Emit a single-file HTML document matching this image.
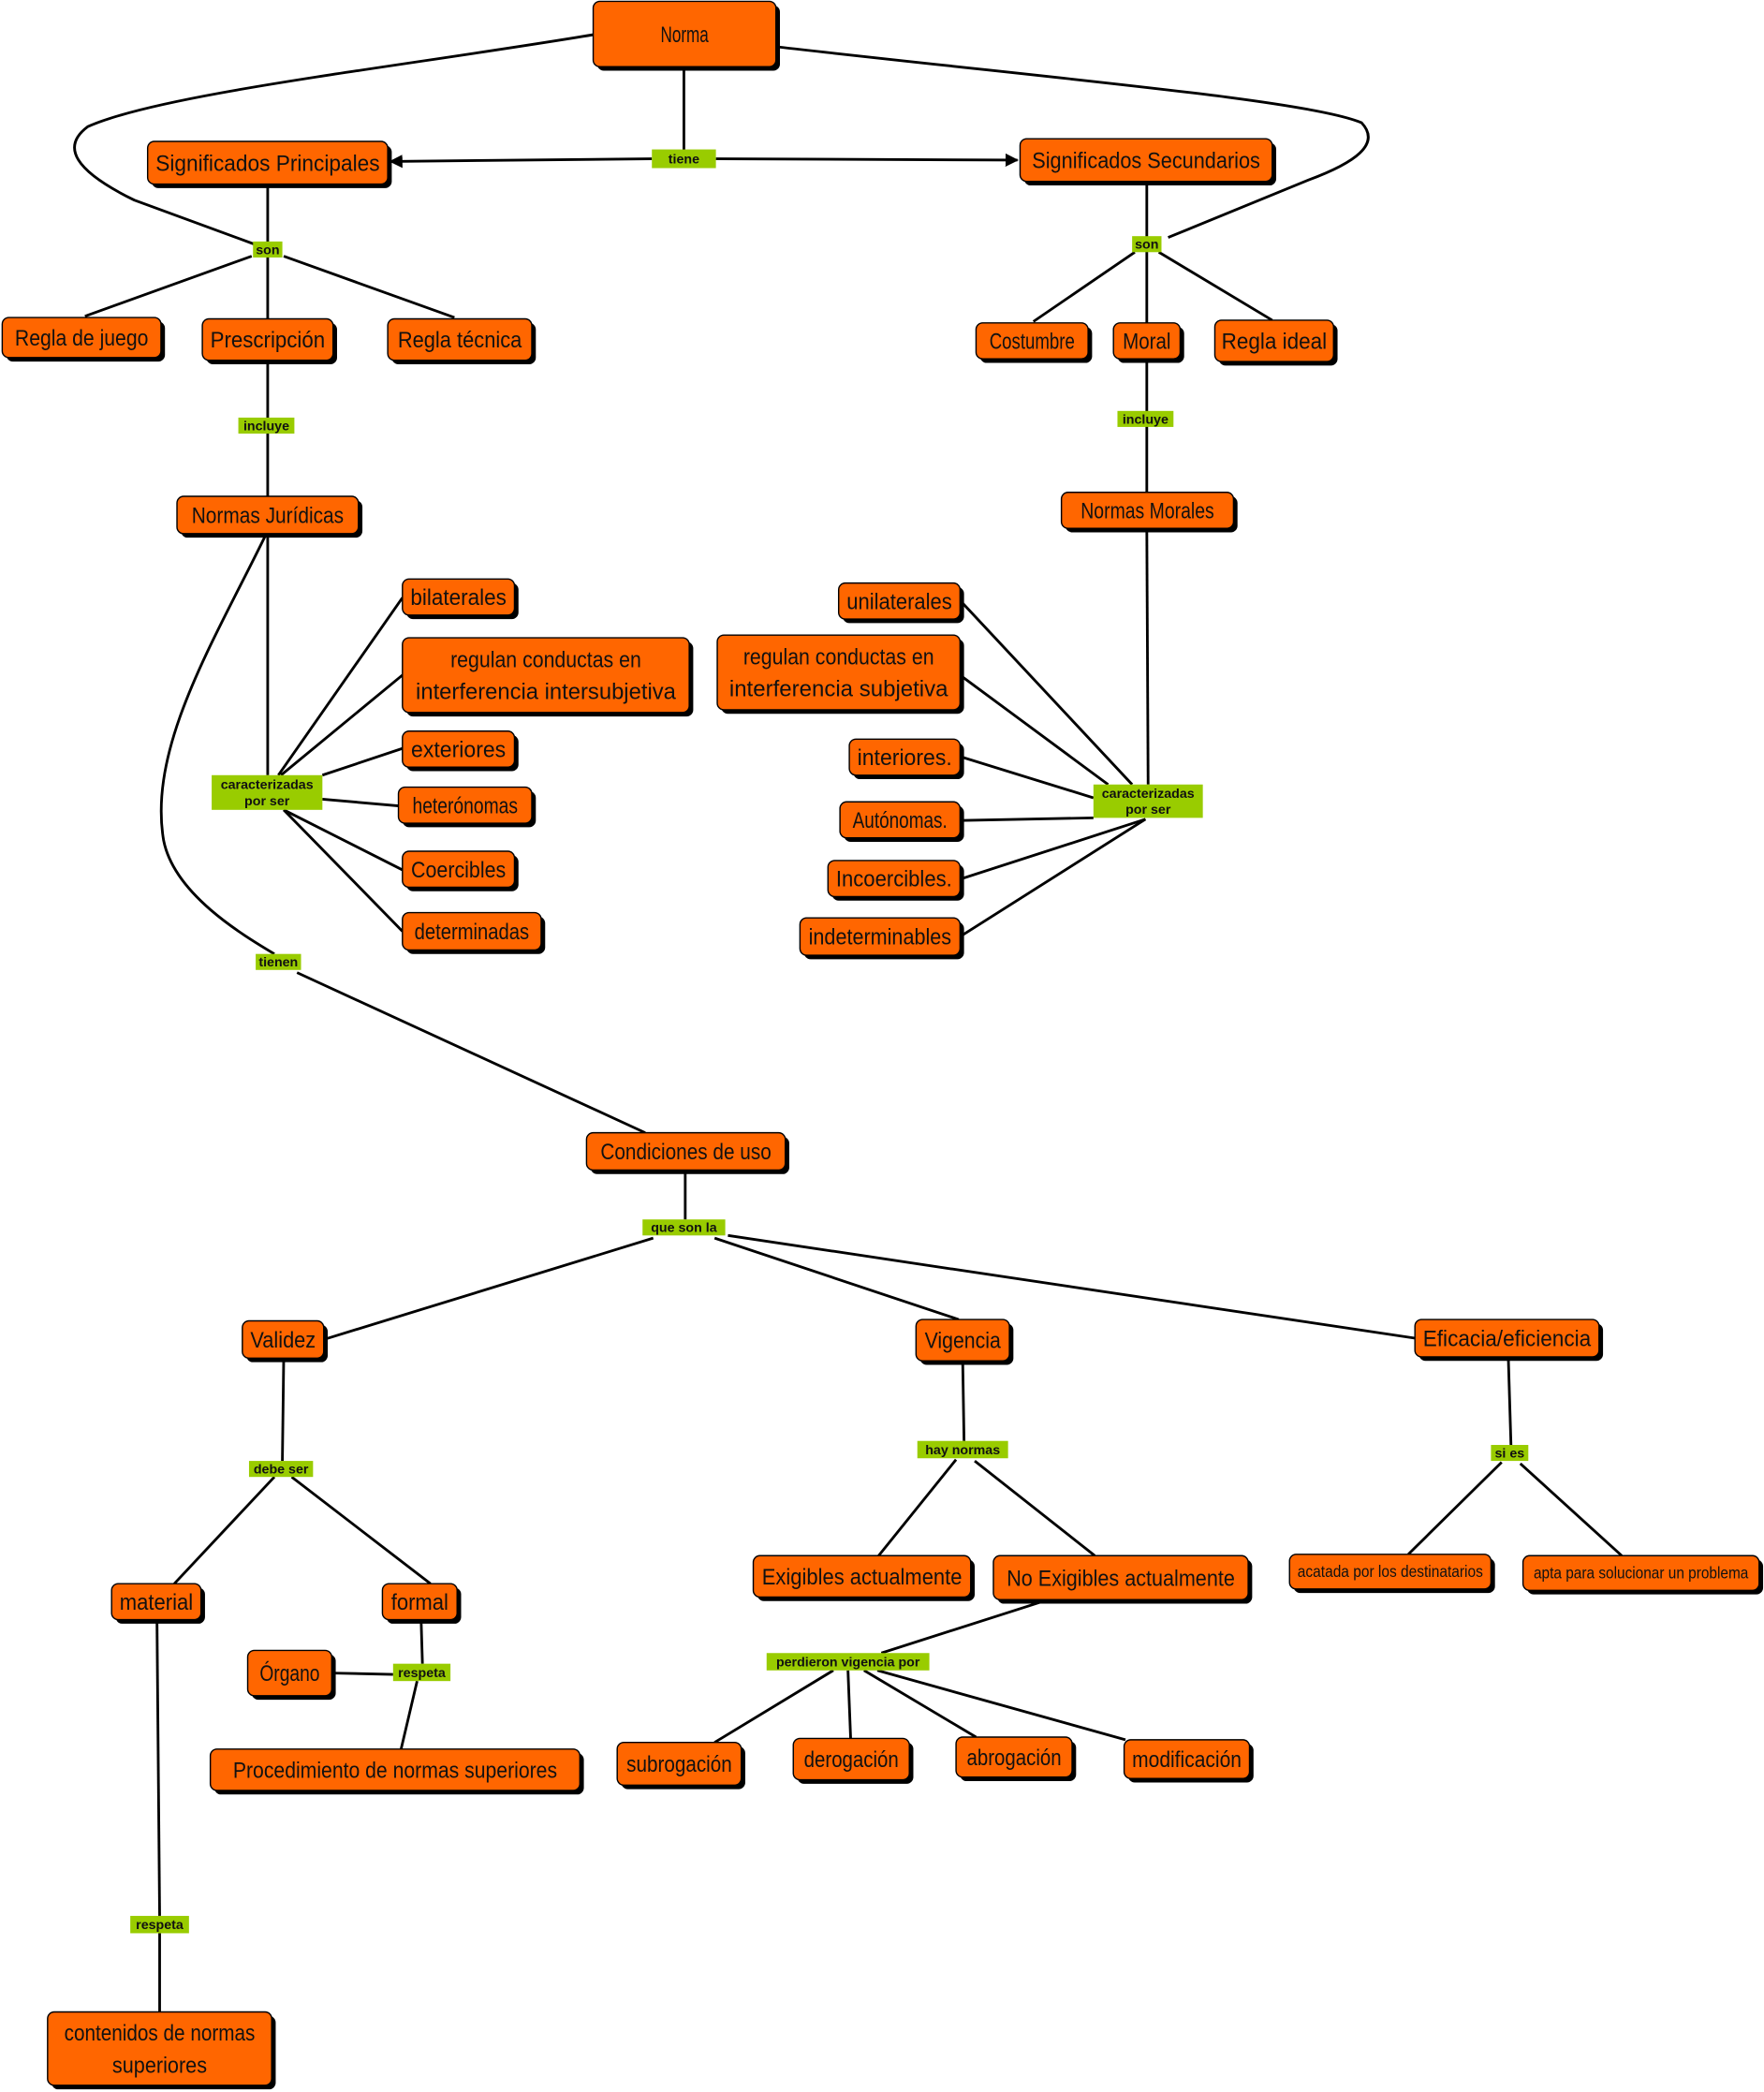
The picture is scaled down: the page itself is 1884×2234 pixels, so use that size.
<!DOCTYPE html>
<html><head><meta charset="utf-8"><style>
html,body{margin:0;padding:0;background:#fff;}
svg{display:block;}
.n{fill:#ff6600;stroke:#000;stroke-width:1;}
.s{fill:#000;}
.t{font-family:"Liberation Sans Narrow","Liberation Sans",sans-serif;font-size:17px;fill:#111;}
.t2{font-family:"Liberation Sans Narrow","Liberation Sans",sans-serif;font-size:12px;fill:#111;}
.l{fill:#99cc00;}
.lt{font-family:"Liberation Sans",sans-serif;font-size:10px;font-weight:bold;fill:#111;}
.c{fill:none;stroke:#000;stroke-width:2;}
</style></head><body>
<svg width="1884" height="2234" viewBox="0 0 1321 1568" xmlns="http://www.w3.org/2000/svg">
<defs><marker id="a" markerWidth="10" markerHeight="10" refX="9" refY="5" orient="auto" markerUnits="userSpaceOnUse"><path d="M0,0 L10,5 L0,10 z" fill="#000"/></marker></defs>
<g class="c">
<path d="M444,26 C300,50 120,70 65,95 C45,110 55,128 100,150 L190,183"/>
<path d="M581,35 C800,60 980,75 1020,92 C1035,108 1015,122 980,135 L875,178"/>
<line x1="512" y1="50" x2="512" y2="113"/>
<line x1="488" y1="119" x2="292" y2="121" marker-end="url(#a)"/>
<line x1="536" y1="119" x2="762" y2="120" marker-end="url(#a)"/>
<line x1="200" y1="138" x2="200" y2="239"/>
<line x1="188" y1="192" x2="63" y2="237"/>
<line x1="212" y1="192" x2="340" y2="238"/>
<line x1="859" y1="136" x2="859" y2="242"/>
<line x1="850" y1="189" x2="774" y2="241"/>
<line x1="868" y1="189" x2="953" y2="240"/>
<line x1="200" y1="270" x2="200" y2="372"/>
<line x1="859" y1="269" x2="859" y2="369"/>
<line x1="200" y1="400" x2="200" y2="581"/>
<line x1="859" y1="396" x2="860" y2="588"/>
<path d="M198,402 C160,480 110,560 122,630 C130,670 180,700 205,715"/>
<line x1="222" y1="729" x2="483" y2="849"/>
<line x1="208" y1="581" x2="301" y2="448"/>
<line x1="210" y1="581" x2="301" y2="506"/>
<line x1="241" y1="581" x2="301" y2="561"/>
<line x1="241" y1="599" x2="298" y2="604"/>
<line x1="212" y1="607" x2="301" y2="652"/>
<line x1="212" y1="607" x2="301" y2="698"/>
<line x1="719" y1="450" x2="848" y2="588"/>
<line x1="719" y1="506" x2="830" y2="588"/>
<line x1="719" y1="567" x2="819" y2="598"/>
<line x1="719" y1="615" x2="819" y2="613"/>
<line x1="719" y1="659" x2="858" y2="614"/>
<line x1="719" y1="702" x2="858" y2="614"/>
<line x1="513" y1="877" x2="513" y2="914"/>
<line x1="489" y1="928" x2="242" y2="1004"/>
<line x1="535" y1="928" x2="718" y2="989"/>
<line x1="545" y1="926" x2="1060" y2="1003"/>
<line x1="212" y1="1018" x2="211" y2="1095"/>
<line x1="205" y1="1107" x2="130" y2="1187"/>
<line x1="218" y1="1107" x2="322" y2="1187"/>
<line x1="721" y1="1020" x2="722" y2="1080"/>
<line x1="716" y1="1094" x2="658" y2="1166"/>
<line x1="730" y1="1095" x2="820" y2="1166"/>
<line x1="1130" y1="1017" x2="1132" y2="1083"/>
<line x1="1125" y1="1096" x2="1055" y2="1165"/>
<line x1="1139" y1="1097" x2="1215" y2="1166"/>
<line x1="315" y1="1214" x2="316" y2="1247"/>
<line x1="248" y1="1254" x2="294" y2="1255"/>
<line x1="312" y1="1260" x2="300" y2="1311"/>
<line x1="117" y1="1214" x2="119" y2="1436"/>
<line x1="119" y1="1449" x2="119" y2="1508"/>
<line x1="782" y1="1200" x2="660" y2="1239"/>
<line x1="624" y1="1252" x2="535" y2="1306"/>
<line x1="635" y1="1252" x2="637" y2="1303"/>
<line x1="647" y1="1252" x2="731" y2="1302"/>
<line x1="657" y1="1252" x2="843" y2="1304"/>
</g>

<!-- nodes -->
<rect class="s" x="447" y="4" width="137" height="49" rx="5"/><rect class="n" x="444" y="1" width="137" height="49" rx="5"/>
<text class="t" x="512.5" y="31.5" text-anchor="middle" textLength="36" lengthAdjust="spacingAndGlyphs">Norma</text>

<rect class="s" x="113" y="109" width="180" height="32" rx="5"/><rect class="n" x="110" y="106" width="180" height="32" rx="5"/>
<text class="t" x="200" y="128" text-anchor="middle" textLength="168" lengthAdjust="spacingAndGlyphs">Significados Principales</text>

<rect class="s" x="767" y="107" width="189" height="32" rx="5"/><rect class="n" x="764" y="104" width="189" height="32" rx="5"/>
<text class="t" x="858.5" y="126" text-anchor="middle" textLength="171" lengthAdjust="spacingAndGlyphs">Significados Secundarios</text>

<rect class="s" x="4" y="241" width="119" height="30" rx="5"/><rect class="n" x="1" y="238" width="119" height="30" rx="5"/>
<text class="t" x="60.5" y="259" text-anchor="middle" textLength="100" lengthAdjust="spacingAndGlyphs">Regla de juego</text>

<rect class="s" x="154" y="242" width="98" height="31" rx="5"/><rect class="n" x="151" y="239" width="98" height="31" rx="5"/>
<text class="t" x="200" y="260.5" text-anchor="middle" textLength="86" lengthAdjust="spacingAndGlyphs">Prescripción</text>

<rect class="s" x="293" y="242" width="108" height="31" rx="5"/><rect class="n" x="290" y="239" width="108" height="31" rx="5"/>
<text class="t" x="344" y="260.5" text-anchor="middle" textLength="93" lengthAdjust="spacingAndGlyphs">Regla técnica</text>

<rect class="s" x="734" y="245" width="84" height="27" rx="5"/><rect class="n" x="731" y="242" width="84" height="27" rx="5"/>
<text class="t" x="773" y="261.5" text-anchor="middle" textLength="64" lengthAdjust="spacingAndGlyphs">Costumbre</text>

<rect class="s" x="837" y="245" width="50" height="27" rx="5"/><rect class="n" x="834" y="242" width="50" height="27" rx="5"/>
<text class="t" x="859" y="261.5" text-anchor="middle" textLength="36" lengthAdjust="spacingAndGlyphs">Moral</text>

<rect class="s" x="913" y="243" width="89" height="31" rx="5"/><rect class="n" x="910" y="240" width="89" height="31" rx="5"/>
<text class="t" x="954.5" y="261.5" text-anchor="middle" textLength="79" lengthAdjust="spacingAndGlyphs">Regla ideal</text>

<rect class="s" x="135" y="375" width="136" height="28" rx="5"/><rect class="n" x="132" y="372" width="136" height="28" rx="5"/>
<text class="t" x="200" y="392" text-anchor="middle" textLength="114" lengthAdjust="spacingAndGlyphs">Normas Jurídicas</text>

<rect class="s" x="798" y="372" width="129" height="27" rx="5"/><rect class="n" x="795" y="369" width="129" height="27" rx="5"/>
<text class="t" x="859.5" y="388.5" text-anchor="middle" textLength="100" lengthAdjust="spacingAndGlyphs">Normas Morales</text>

<rect class="s" x="304" y="437" width="84" height="27" rx="5"/><rect class="n" x="301" y="434" width="84" height="27" rx="5"/>
<text class="t" x="343" y="453.5" text-anchor="middle" textLength="72" lengthAdjust="spacingAndGlyphs">bilaterales</text>

<rect class="s" x="304" y="481" width="215" height="56" rx="5"/><rect class="n" x="301" y="478" width="215" height="56" rx="5"/>
<text class="t" x="408.5" y="500" text-anchor="middle" textLength="143" lengthAdjust="spacingAndGlyphs">regulan conductas en</text>
<text class="t" x="408.5" y="524" text-anchor="middle" textLength="195" lengthAdjust="spacingAndGlyphs">interferencia intersubjetiva</text>

<rect class="s" x="304" y="551" width="84" height="27" rx="5"/><rect class="n" x="301" y="548" width="84" height="27" rx="5"/>
<text class="t" x="343" y="567.5" text-anchor="middle" textLength="71" lengthAdjust="spacingAndGlyphs">exteriores</text>

<rect class="s" x="301" y="593" width="100" height="27" rx="5"/><rect class="n" x="298" y="590" width="100" height="27" rx="5"/>
<text class="t" x="348" y="609.5" text-anchor="middle" textLength="79" lengthAdjust="spacingAndGlyphs">heterónomas</text>

<rect class="s" x="304" y="641" width="84" height="27" rx="5"/><rect class="n" x="301" y="638" width="84" height="27" rx="5"/>
<text class="t" x="343" y="657.5" text-anchor="middle" textLength="71" lengthAdjust="spacingAndGlyphs">Coercibles</text>

<rect class="s" x="304" y="687" width="104" height="28" rx="5"/><rect class="n" x="301" y="684" width="104" height="28" rx="5"/>
<text class="t" x="353" y="704" text-anchor="middle" textLength="86" lengthAdjust="spacingAndGlyphs">determinadas</text>

<rect class="s" x="631" y="440" width="91" height="27" rx="5"/><rect class="n" x="628" y="437" width="91" height="27" rx="5"/>
<text class="t" x="673.5" y="456.5" text-anchor="middle" textLength="79" lengthAdjust="spacingAndGlyphs">unilaterales</text>

<rect class="s" x="540" y="479" width="182" height="56" rx="5"/><rect class="n" x="537" y="476" width="182" height="56" rx="5"/>
<text class="t" x="628" y="498" text-anchor="middle" textLength="143" lengthAdjust="spacingAndGlyphs">regulan conductas en</text>
<text class="t" x="628" y="522" text-anchor="middle" textLength="164" lengthAdjust="spacingAndGlyphs">interferencia subjetiva</text>

<rect class="s" x="639" y="557" width="83" height="27" rx="5"/><rect class="n" x="636" y="554" width="83" height="27" rx="5"/>
<text class="t" x="677.5" y="573.5" text-anchor="middle" textLength="71" lengthAdjust="spacingAndGlyphs">interiores.</text>

<rect class="s" x="632" y="604" width="90" height="27" rx="5"/><rect class="n" x="629" y="601" width="90" height="27" rx="5"/>
<text class="t" x="674" y="620.5" text-anchor="middle" textLength="71" lengthAdjust="spacingAndGlyphs">Autónomas.</text>

<rect class="s" x="623" y="648" width="99" height="27" rx="5"/><rect class="n" x="620" y="645" width="99" height="27" rx="5"/>
<text class="t" x="669.5" y="664.5" text-anchor="middle" textLength="87" lengthAdjust="spacingAndGlyphs">Incoercibles.</text>

<rect class="s" x="602" y="691" width="120" height="28" rx="5"/><rect class="n" x="599" y="688" width="120" height="28" rx="5"/>
<text class="t" x="659" y="708" text-anchor="middle" textLength="107" lengthAdjust="spacingAndGlyphs">indeterminables</text>

<rect class="s" x="442" y="852" width="149" height="28" rx="5"/><rect class="n" x="439" y="849" width="149" height="28" rx="5"/>
<text class="t" x="513.5" y="869" text-anchor="middle" textLength="128" lengthAdjust="spacingAndGlyphs">Condiciones de uso</text>

<rect class="s" x="184" y="993" width="61" height="28" rx="5"/><rect class="n" x="181" y="990" width="61" height="28" rx="5"/>
<text class="t" x="211.5" y="1010" text-anchor="middle" textLength="49" lengthAdjust="spacingAndGlyphs">Validez</text>

<rect class="s" x="689" y="992" width="70" height="31" rx="5"/><rect class="n" x="686" y="989" width="70" height="31" rx="5"/>
<text class="t" x="721" y="1010.5" text-anchor="middle" textLength="57" lengthAdjust="spacingAndGlyphs">Vigencia</text>

<rect class="s" x="1063" y="992" width="138" height="28" rx="5"/><rect class="n" x="1060" y="989" width="138" height="28" rx="5"/>
<text class="t" x="1129" y="1009" text-anchor="middle" textLength="126" lengthAdjust="spacingAndGlyphs">Eficacia/eficiencia</text>

<rect class="s" x="86" y="1190" width="67" height="27" rx="5"/><rect class="n" x="83" y="1187" width="67" height="27" rx="5"/>
<text class="t" x="116.5" y="1206.5" text-anchor="middle" textLength="55" lengthAdjust="spacingAndGlyphs">material</text>

<rect class="s" x="289" y="1190" width="56" height="27" rx="5"/><rect class="n" x="286" y="1187" width="56" height="27" rx="5"/>
<text class="t" x="314" y="1206.5" text-anchor="middle" textLength="43" lengthAdjust="spacingAndGlyphs">formal</text>

<rect class="s" x="188" y="1240" width="63" height="34" rx="5"/><rect class="n" x="185" y="1237" width="63" height="34" rx="5"/>
<text class="t" x="216.5" y="1260" text-anchor="middle" textLength="45" lengthAdjust="spacingAndGlyphs">Órgano</text>

<rect class="s" x="160" y="1314" width="277" height="31" rx="5"/><rect class="n" x="157" y="1311" width="277" height="31" rx="5"/>
<text class="t" x="295.5" y="1332.5" text-anchor="middle" textLength="243" lengthAdjust="spacingAndGlyphs">Procedimiento de normas superiores</text>

<rect class="s" x="567" y="1169" width="163" height="31" rx="5"/><rect class="n" x="564" y="1166" width="163" height="31" rx="5"/>
<text class="t" x="645.5" y="1187.5" text-anchor="middle" textLength="150" lengthAdjust="spacingAndGlyphs">Exigibles actualmente</text>

<rect class="s" x="747" y="1169" width="191" height="33" rx="5"/><rect class="n" x="744" y="1166" width="191" height="33" rx="5"/>
<text class="t" x="839.5" y="1188.5" text-anchor="middle" textLength="171" lengthAdjust="spacingAndGlyphs">No Exigibles actualmente</text>

<rect class="s" x="969" y="1168" width="151" height="26" rx="5"/><rect class="n" x="966" y="1165" width="151" height="26" rx="5"/>
<text class="t2" x="1041.5" y="1182" text-anchor="middle" textLength="139" lengthAdjust="spacingAndGlyphs">acatada por los destinatarios</text>

<rect class="s" x="1144" y="1169" width="177" height="26" rx="5"/><rect class="n" x="1141" y="1166" width="177" height="26" rx="5"/>
<text class="t2" x="1229.5" y="1183" text-anchor="middle" textLength="161" lengthAdjust="spacingAndGlyphs">apta para solucionar un problema</text>

<rect class="s" x="465" y="1309" width="93" height="32" rx="5"/><rect class="n" x="462" y="1306" width="93" height="32" rx="5"/>
<text class="t" x="508.5" y="1328" text-anchor="middle" textLength="79" lengthAdjust="spacingAndGlyphs">subrogación</text>

<rect class="s" x="597" y="1306" width="87" height="31" rx="5"/><rect class="n" x="594" y="1303" width="87" height="31" rx="5"/>
<text class="t" x="637.5" y="1324.5" text-anchor="middle" textLength="71" lengthAdjust="spacingAndGlyphs">derogación</text>

<rect class="s" x="719" y="1305" width="87" height="30" rx="5"/><rect class="n" x="716" y="1302" width="87" height="30" rx="5"/>
<text class="t" x="759.5" y="1323" text-anchor="middle" textLength="71" lengthAdjust="spacingAndGlyphs">abrogación</text>

<rect class="s" x="845" y="1307" width="94" height="29" rx="5"/><rect class="n" x="842" y="1304" width="94" height="29" rx="5"/>
<text class="t" x="889" y="1324.5" text-anchor="middle" textLength="82" lengthAdjust="spacingAndGlyphs">modificación</text>

<rect class="s" x="38" y="1511" width="168" height="55" rx="5"/><rect class="n" x="35" y="1508" width="168" height="55" rx="5"/>
<text class="t" x="119" y="1529.5" text-anchor="middle" textLength="143" lengthAdjust="spacingAndGlyphs">contenidos de normas</text>
<text class="t" x="119" y="1553.5" text-anchor="middle" textLength="71" lengthAdjust="spacingAndGlyphs">superiores</text>

<!-- labels -->
<rect class="l" x="488" y="112" width="48" height="14"/><text class="lt" x="512" y="122.5" text-anchor="middle">tiene</text>
<rect class="l" x="189" y="181" width="22" height="12"/><text class="lt" x="200" y="190.5" text-anchor="middle">son</text>
<rect class="l" x="848" y="177" width="22" height="12"/><text class="lt" x="859" y="186.5" text-anchor="middle">son</text>
<rect class="l" x="178" y="313" width="42" height="12"/><text class="lt" x="199" y="322.5" text-anchor="middle">incluye</text>
<rect class="l" x="837" y="308" width="42" height="12"/><text class="lt" x="858" y="317.5" text-anchor="middle">incluye</text>
<rect class="l" x="158" y="581" width="83" height="26"/><text class="lt" x="199.5" y="591.5" text-anchor="middle">caracterizadas</text><text class="lt" x="199.5" y="603.5" text-anchor="middle">por ser</text>
<rect class="l" x="819" y="588" width="82" height="25"/><text class="lt" x="860" y="598" text-anchor="middle">caracterizadas</text><text class="lt" x="860" y="610" text-anchor="middle">por ser</text>
<rect class="l" x="191" y="715" width="34" height="12"/><text class="lt" x="208" y="724.5" text-anchor="middle">tienen</text>
<rect class="l" x="481" y="914" width="62" height="12"/><text class="lt" x="512" y="923.5" text-anchor="middle">que son la</text>
<rect class="l" x="186" y="1095" width="48" height="12"/><text class="lt" x="210" y="1104.5" text-anchor="middle">debe ser</text>
<rect class="l" x="687" y="1080" width="68" height="13"/><text class="lt" x="721" y="1090" text-anchor="middle">hay normas</text>
<rect class="l" x="1117" y="1083" width="28" height="12"/><text class="lt" x="1131" y="1092.5" text-anchor="middle">si es</text>
<rect class="l" x="294" y="1247" width="43" height="13"/><text class="lt" x="315.5" y="1257" text-anchor="middle">respeta</text>
<rect class="l" x="574" y="1239" width="122" height="13"/><text class="lt" x="635" y="1249" text-anchor="middle">perdieron vigencia por</text>
<rect class="l" x="97" y="1436" width="44" height="13"/><text class="lt" x="119" y="1446" text-anchor="middle">respeta</text>
</svg>
</body></html>
